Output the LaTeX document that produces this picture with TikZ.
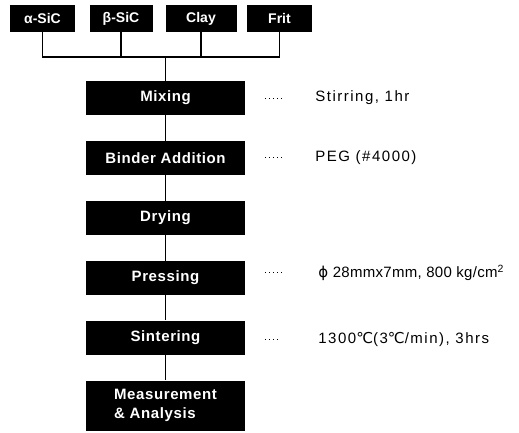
\documentclass[tikz,border=0pt]{standalone}
\usepackage{fontspec}
\setmainfont{Liberation Sans}
\newfontfamily\symfont{DejaVu Sans}
\usetikzlibrary{positioning}
\tikzset{stepbox/.style={rectangle,fill=black,text=white,font=\fontsize{15}{19}\selectfont\bfseries\addfontfeature{LetterSpace=4},minimum width=159pt,minimum height=34pt,inner sep=2pt,align=left},
rawbox/.style={rectangle,fill=black,text=white,font=\fontsize{14}{16}\selectfont\bfseries,minimum height=27pt,inner sep=2pt},
note/.style={inner sep=0pt,font=\fontsize{15}{17}\selectfont\addfontfeature{LetterSpace=10}},
link/.style={line width=1.3pt},
leader/.style={line width=1pt,dash pattern=on 1pt off 3pt}}

\begin{document}
\begin{tikzpicture}[x=1pt,y=1pt,node distance=25.5pt and 70pt]
\useasboundingbox (0,0) rectangle (519,-432);
\node[rawbox, minimum width=65pt] (asic) at (42.5,-18.5) {α-SiC};
\node[rawbox, minimum width=63pt] (bsic) at (121,-18.5) {β-SiC};
\node[rawbox, minimum width=71pt] (clay) at (201,-18.5) {Clay};
\node[rawbox, minimum width=65pt] (frit) at (279.5,-18.5) {Frit};
\node[stepbox] (mix) at (165.5,-98) {Mixing};
\node[stepbox, below=of mix] (bind) {Binder Addition};
\node[stepbox, below=of bind] (dry) {Drying};
\node[stepbox, below=of dry] (press) {Pressing};
\node[stepbox, below=of press] (sinter) {Sintering};
\node[stepbox, below=of sinter, minimum height=50pt] (meas) {Measurement\\\& Analysis};
\coordinate (join) at (mix.north |- 0,-57);
\draw[link] (asic.south) -- (asic.south |- join) -- (frit.south |- join) -- (frit.south);
\draw[link] (bsic.south) -- (bsic.south |- join);
\draw[link] (clay.south) -- (clay.south |- join);
\draw[link] (join) -- (mix.north);
\draw[link] (mix) -- (bind);
\draw[link] (bind) -- (dry);
\draw[link] (dry) -- (press);
\draw[link] (press) -- (sinter);
\draw[link] (sinter) -- (meas);
% process conditions
\node[note, right=of mix] (stir) {Stirring, 1hr};
\node[note, right=of bind] (peg) {PEG (\#4000)};
\node[note, right=73pt of press, yshift=5pt, font=\fontsize{15}{17}\selectfont\addfontfeature{LetterSpace=2}] (size) {{\symfont ϕ} 28mmx7mm, 800 kg/cm\textsuperscript{2}};
\node[note, right=73pt of sinter, yshift=-2pt] (temp) {1300{\symfont ℃}(3{\symfont ℃}/min), 3hrs};
\draw[leader] ([xshift=20pt]mix.east) -- ([xshift=-32pt]stir.west);
\draw[leader] ([xshift=20pt]bind.east) -- ([xshift=-32pt]peg.west);
\draw[leader] ([xshift=20pt]press.east |- size.west) -- ([xshift=-35pt]size.west);
\draw[leader] ([xshift=20pt]sinter.east |- temp.west) -- ([xshift=-38pt]temp.west);
\end{tikzpicture}
\end{document}
